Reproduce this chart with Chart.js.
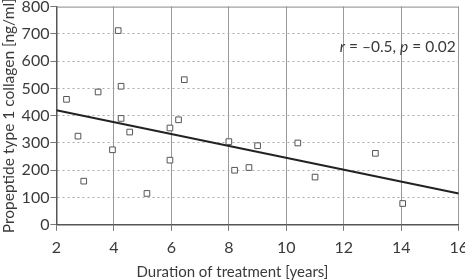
<!DOCTYPE html>
<html>
<head>
<meta charset="utf-8">
<script src="https://cdn.jsdelivr.net/npm/chart.js@4.4.1/dist/chart.umd.min.js"></script>
<style>
  html, body { margin: 0; padding: 0; background: #fff; overflow: hidden; }
  /* plot frame runs to the window edge, so the canvas is a bit larger and shifted up */
  #wrap { position: absolute; left: 0; top: -4px; width: 475px; height: 284px; }
</style>
</head>
<body>
<div id="wrap"><canvas id="chart"></canvas></div>
<script>
// Duration of treatment [years] vs propeptide type 1 collagen [ng/ml]
const durationYears = [2.35, 2.75, 2.95, 3.45, 3.95, 4.15, 4.25, 4.25, 4.55, 5.15, 5.95, 5.95, 6.25, 6.45, 8.0, 8.2, 8.7, 9.0, 10.4, 11.0, 13.1, 14.05];
const collagenValues = [460, 325, 160, 487, 275, 712, 508, 390, 340, 115, 355, 237, 385, 532, 305, 200, 210, 290, 300, 175, 262, 78];
const trendX = [2, 16];
const trendY = [420, 115];
const xTicks = [2, 4, 6, 8, 10, 12, 14, 16];
const yTicks = [0, 100, 200, 300, 400, 500, 600, 700, 800];
const xTitle = 'Duration of treatment [years]';

const FONT = "Lato, sans-serif";
const textColor = '#3a3a3a';

const points = durationYears.map((x, i) => ({ x: x, y: collagenValues[i] }));
const trend = trendX.map((x, i) => ({ x: x, y: trendY[i] }));

// frame on top, r/p label, x title (centred on the page, not the plot)
const framePlugin = {
  id: 'frame',
  afterDraw(chart) {
    const { ctx, chartArea, scales } = chart;
    ctx.save();
    ctx.strokeStyle = '#8a8a8a';
    ctx.lineWidth = 1;
    ctx.beginPath();
    ctx.moveTo(chartArea.left, chartArea.top + 0.5);
    ctx.lineTo(chartArea.right, chartArea.top + 0.5);
    ctx.stroke();

    ctx.fillStyle = textColor;
    ctx.textBaseline = 'middle';

    ctx.textAlign = 'center';
    ctx.font = '15px ' + FONT;
    ctx.fillText(xTitle, 232.5, chart.height - 8);

    // annotation, drawn right to left
    let x = scales.x.getPixelForValue(15.9);
    const y = scales.y.getPixelForValue(652);
    ctx.textAlign = 'right';
    const parts = [
      ['', ' = 0.02'], ['italic ', 'p'], ['', ' = \u20130.5, '], ['italic ', 'r']
    ];
    parts.forEach(([style, txt]) => {
      ctx.font = style + '15.5px ' + FONT;
      ctx.fillText(txt, x, y);
      x -= ctx.measureText(txt).width;
    });
    ctx.restore();
  }
};

new Chart(document.getElementById('chart'), {
  type: 'scatter',
  data: {
    datasets: [
      {
        data: points,
        pointStyle: 'rect',
        pointRadius: 4,
        pointHoverRadius: 4,
        borderColor: '#555',
        backgroundColor: '#fff',
        borderWidth: 1,
        order: 1
      },
      {
        type: 'line',
        data: trend,
        borderColor: '#222',
        borderWidth: 2,
        pointRadius: 0,
        fill: false,
        order: 2
      }
    ]
  },
  plugins: [framePlugin],
  options: {
    responsive: true,
    maintainAspectRatio: false,
    animation: false,
    layout: { padding: { top: 0, right: 0, left: 0, bottom: 16 } },
    plugins: { legend: { display: false }, tooltip: { enabled: false } },
    scales: {
      x: {
        type: 'linear',
        min: 2,
        max: 16,
        afterBuildTicks: axis => { axis.ticks = xTicks.map(v => ({ value: v })); },
        grid: { color: '#999', lineWidth: 1, tickLength: 6, tickColor: '#777' },
        border: { color: '#555', width: 1.5 },
        ticks: { color: textColor, font: { family: FONT, size: 16 }, padding: 7 },
        title: { display: false }
      },
      y: {
        min: 0,
        max: 800,
        afterBuildTicks: axis => { axis.ticks = yTicks.map(v => ({ value: v })); },
        grid: {
          color: ctx => (ctx.tick && ctx.tick.value === 800 ? 'rgba(0,0,0,0)' : '#aaa'),
          lineWidth: 1,
          tickLength: 6,
          tickColor: '#777'
        },
        border: { color: '#555', width: 1.5, dash: [2, 3] },
        ticks: { color: textColor, font: { family: FONT, size: 16 }, padding: 1 },
        title: {
          display: true,
          text: 'Propeptide type 1 collagen [ng/ml]',
          color: textColor,
          font: { family: FONT, size: 15.5 },
          padding: { top: 0, bottom: 2 }
        }
      }
    }
  }
});
</script>
</body>
</html>
